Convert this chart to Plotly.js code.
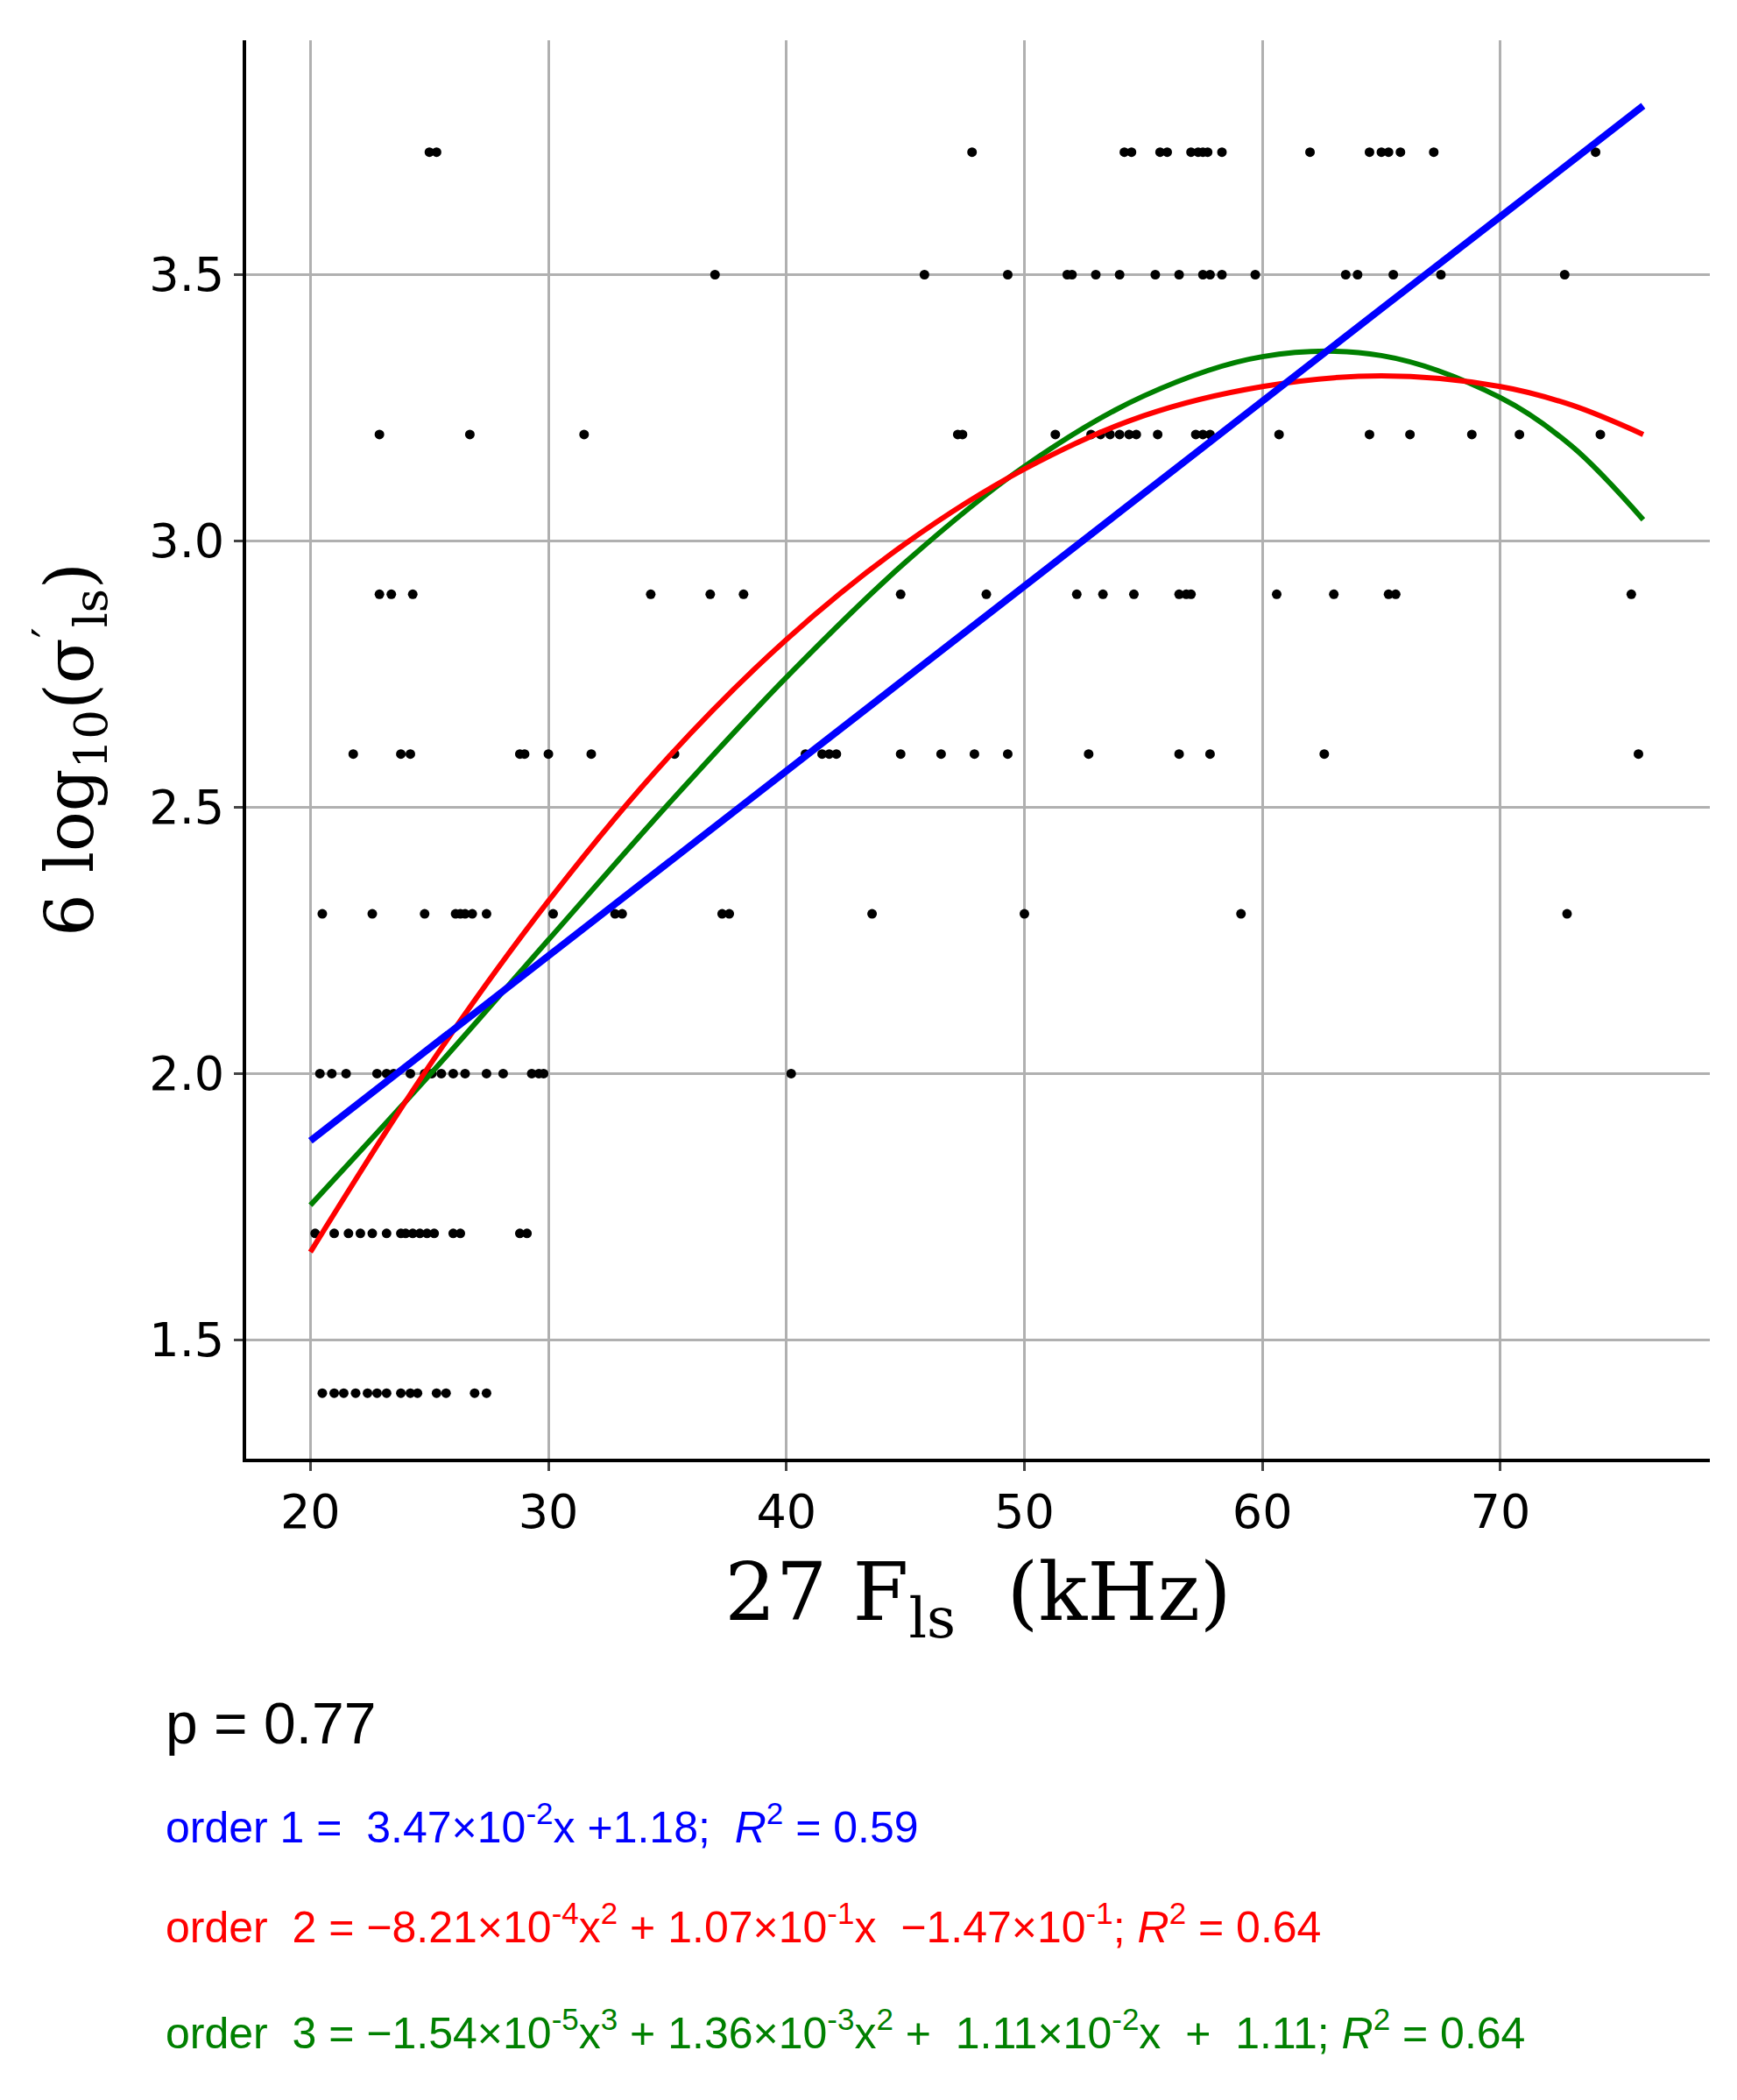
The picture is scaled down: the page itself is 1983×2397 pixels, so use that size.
<!DOCTYPE html>
<html>
<head>
<meta charset="utf-8">
<script src="https://cdn.plot.ly/plotly-3.0.1.min.js"></script>
<style>body{margin:0;background:#fff}#chart{width:1983px;height:2397px}</style>
</head>
<body>
<div id="chart"></div>
<script>
// scatter data, x values per y level
var levels = [3.73, 3.5, 3.2, 2.9, 2.6, 2.3, 2.0, 1.7, 1.4];
var xs373 = [25.0, 25.3, 47.8, 54.2, 54.5, 55.7, 56.0, 57.0, 57.3, 57.5, 57.7, 58.3, 62.0, 64.5, 65.0, 65.3, 65.8, 67.2, 74.0];
var xs350 = [37.0, 45.8, 49.3, 51.8, 52.0, 53.0, 54.0, 55.5, 56.5, 57.5, 57.8, 58.3, 59.7, 63.5, 64.0, 65.5, 67.5, 72.7];
var xs320 = [22.9, 26.7, 31.5, 47.2, 47.4, 51.3, 52.8, 53.2, 53.6, 54.0, 54.4, 54.7, 55.6, 57.2, 57.5, 57.8, 60.7, 64.5, 66.2, 68.8, 70.8, 74.2];
var xs290 = [22.9, 23.4, 24.3, 34.3, 36.8, 38.2, 44.8, 48.4, 52.2, 53.3, 54.6, 56.5, 56.8, 57.0, 60.6, 63.0, 65.3, 65.6, 75.5];
var xs260 = [21.8, 23.8, 24.2, 28.8, 29.0, 30.0, 31.8, 35.3, 40.8, 41.5, 41.8, 42.1, 44.8, 46.5, 47.9, 49.3, 52.7, 56.5, 57.8, 62.6, 75.8];
var xs230 = [20.5, 22.6, 24.8, 26.1, 26.3, 26.5, 26.8, 27.4, 30.2, 32.8, 33.1, 37.3, 37.6, 43.6, 50.0, 59.1, 72.8];
var xs200 = [20.4, 20.9, 21.5, 22.8, 23.2, 23.5, 24.2, 24.8, 25.1, 25.5, 26.0, 26.5, 27.4, 28.1, 29.3, 29.6, 29.8, 40.2];
var xs170 = [20.2, 21.0, 21.6, 22.1, 22.6, 23.2, 23.8, 24.0, 24.3, 24.6, 24.9, 25.2, 26.0, 26.3, 28.8, 29.1];
var xs140 = [20.5, 21.0, 21.4, 21.9, 22.4, 22.8, 23.2, 23.8, 24.2, 24.5, 25.3, 25.7, 26.9, 27.4];
var groups = [xs373, xs350, xs320, xs290, xs260, xs230, xs200, xs170, xs140];

// fitted curves
var fitX = [20, 25, 30, 35, 40, 45, 50, 55, 60, 65, 70, 73, 76];
var order1 = [1.874, 2.048, 2.221, 2.395, 2.568, 2.742, 2.915, 3.089, 3.262, 3.436, 3.609, 3.713, 3.817];
var order2 = [1.665, 2.015, 2.324, 2.592, 2.815, 2.995, 3.135, 3.235, 3.290, 3.310, 3.290, 3.255, 3.200];
var order3 = [1.753, 1.997, 2.251, 2.504, 2.744, 2.960, 3.140, 3.272, 3.346, 3.348, 3.269, 3.178, 3.040];

var px = [], py = [];
groups.forEach(function (g, i) {
    g.forEach(function (x) { px.push(x); py.push(levels[i]); });
});

var traces = [
    {x: px, y: py, type: 'scatter', mode: 'markers', marker: {size: 11, color: 'black'}},
    {x: fitX, y: order3, type: 'scatter', mode: 'lines', line: {color: 'green', width: 6, shape: 'spline'}},
    {x: fitX, y: order2, type: 'scatter', mode: 'lines', line: {color: 'red', width: 6, shape: 'spline'}},
    {x: fitX, y: order1, type: 'scatter', mode: 'lines', line: {color: 'blue', width: 8}}
];

var eqFont = 'Liberation Sans, Arial, sans-serif';
function note(text, y, color, size) {
    return {text: text, xref: 'paper', yref: 'paper', x: -0.056, y: y, xanchor: 'left', yanchor: 'middle',
            showarrow: false, font: {family: eqFont, size: size, color: color}};
}

var layout = {
    width: 1983, height: 2397,
    margin: {l: 281, r: 31, t: 46, b: 732},
    showlegend: false,
    plot_bgcolor: 'white', paper_bgcolor: 'white',
    font: {family: 'DejaVu Sans', size: 54, color: 'black'},
    xaxis: {
        range: [17.3, 78.8], tickvals: [20, 30, 40, 50, 60, 70],
        showgrid: true, gridcolor: '#b0b0b0', gridwidth: 3,
        showline: true, linecolor: 'black', linewidth: 4, zeroline: false,
        ticks: 'outside', ticklen: 10, tickwidth: 3,
        title: {text: '27 F<sub>ls</sub>  (kHz)', font: {family: 'DejaVu Serif', size: 92}, standoff: 30}
    },
    yaxis: {
        range: [1.277, 3.94], tickvals: [1.5, 2.0, 2.5, 3.0, 3.5], ticktext: ['1.5', '2.0', '2.5', '3.0', '3.5'],
        showgrid: true, gridcolor: '#b0b0b0', gridwidth: 3,
        showline: true, linecolor: 'black', linewidth: 4, zeroline: false,
        ticks: 'outside', ticklen: 10, tickwidth: 3,
        title: {text: '6 log<sub>10</sub>(σ<sup>′</sup><sub>ls</sub>)', font: {family: 'DejaVu Serif', size: 76}, standoff: 40}
    },
    annotations: [
        note('p = 0.77', -0.1865, 'black', 66),
        note('order 1 =  3.47×10<sup>-2</sup>x +1.18;  <i>R</i><sup>2</sup> = 0.59', -0.2576, 'blue', 50),
        note('order  2 = −8.21×10<sup>-4</sup>x<sup>2</sup> + 1.07×10<sup>-1</sup>x  −1.47×10<sup>-1</sup>; <i>R</i><sup>2</sup> = 0.64', -0.328, 'red', 50),
        note('order  3 = −1.54×10<sup>-5</sup>x<sup>3</sup> + 1.36×10<sup>-3</sup>x<sup>2</sup> +  1.11×10<sup>-2</sup>x  +  1.11; <i>R</i><sup>2</sup> = 0.64', -0.403, 'green', 50)
    ]
};

Plotly.newPlot('chart', traces, layout, {displayModeBar: false});
</script>
</body>
</html>
